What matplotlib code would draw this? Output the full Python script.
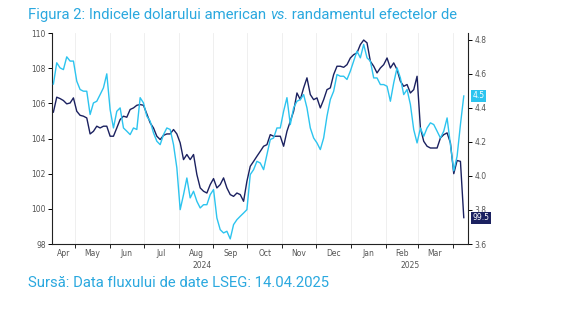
import numpy as np
import pandas as pd
import matplotlib
matplotlib.use('Agg')
import matplotlib.pyplot as plt
from matplotlib.transforms import blended_transform_factory

# sampled roughly every 3 days, 12 Apr 2024 - 11 Apr 2025
dates = pd.date_range('2024-04-12', '2025-04-11', periods=124)

# US dollar index (left axis)
dxy = [105.5, 106.35, 106.27, 106.16, 105.97, 106.02, 106.31, 105.55, 105.32, 105.27,
       105.17, 104.26, 104.41, 104.70, 104.60, 104.70, 104.70, 104.13, 104.13, 104.60,
       105.08, 105.27, 105.21, 105.65, 105.74, 105.89, 105.93, 105.89, 105.40, 104.89,
       104.60, 104.13, 103.94, 104.18, 104.26, 104.26, 104.51, 104.26, 103.75, 102.80,
       103.09, 102.80, 103.09, 101.95, 101.19,
       101.00, 100.90, 101.38, 101.72, 101.19, 101.38, 101.76, 101.19, 100.81, 100.71,
       100.90, 100.81, 100.43, 101.57, 102.42, 102.70, 102.99, 103.27, 103.56, 103.65,
       104.22, 104.13, 104.13, 104.13, 103.56, 104.41, 104.98, 105.55, 106.59, 106.21,
       106.88, 107.45, 106.50, 106.21, 106.31, 105.74, 106.21, 106.78, 106.88, 107.64,
       108.11, 108.11, 108.05, 108.20, 108.58, 108.77, 108.87, 109.34, 109.60, 109.44,
       108.39, 108.11, 107.73, 108.01, 108.20, 108.58, 108.01, 108.30, 107.92, 107.26,
       106.97, 107.07, 106.59, 106.78, 107.54, 104.60, 103.84, 103.56, 103.46, 103.46,
       103.46, 104.03, 104.22, 104.32, 103.75, 102.00, 102.75, 102.70, 99.5]

# 10Y US Treasury yield, % (right axis)
ust10 = [4.54, 4.665, 4.635, 4.625, 4.70, 4.675, 4.675, 4.557, 4.508, 4.498,
         4.498, 4.361, 4.429, 4.439, 4.478, 4.518, 4.60, 4.390, 4.282, 4.380,
         4.400, 4.282, 4.263, 4.243, 4.282, 4.273, 4.46, 4.429, 4.351, 4.322,
         4.253, 4.204, 4.184, 4.243, 4.282, 4.273, 4.184, 4.047, 3.802, 3.890,
         3.988, 3.871, 3.910, 3.851, 3.812,
         3.831, 3.831, 3.890, 3.920, 3.753, 3.684, 3.665, 3.675, 3.63, 3.714,
         3.743, 3.763, 3.782, 3.802, 4.008, 4.037, 4.086, 4.076, 4.037, 4.125,
         4.214, 4.223, 4.282, 4.282, 4.380, 4.46, 4.302, 4.400, 4.439, 4.449,
         4.478, 4.400, 4.282, 4.223, 4.194, 4.155, 4.223, 4.351, 4.449, 4.498,
         4.596, 4.586, 4.586, 4.567, 4.616, 4.675, 4.733, 4.694, 4.773, 4.694,
         4.675, 4.576, 4.576, 4.537, 4.537, 4.527, 4.439, 4.547, 4.635, 4.576,
         4.478, 4.508, 4.420, 4.272, 4.194, 4.282, 4.233, 4.282, 4.312, 4.302,
         4.263, 4.223, 4.263, 4.341, 4.184, 4.03, 4.116, 4.302, 4.47]

month_names = ['Apr', 'May', 'Jun', 'Jul', 'Aug', 'Sep', 'Oct', 'Nov', 'Dec',
               'Jan', 'Feb', 'Mar']
years = ['2024', '2025']

x_start = pd.Timestamp('2024-04-11')
x_end = pd.Timestamp('2025-04-15')

navy = '#1b2160'
cyan = '#2cc4ef'
title_col = '#2aa8df'
tick_col = '#555555'

plt.rcParams['font.family'] = 'DejaVu Sans'

fig = plt.figure(figsize=(5.67, 3.22), dpi=100)
ax = fig.add_axes([0.0922, 0.2422, 0.7337, 0.6553])
ax2 = ax.twinx()

ax.plot(dates, dxy, color=navy, lw=1.0)
ax2.plot(dates, ust10, color=cyan, lw=1.0)

ax.set_xlim(x_start, x_end)
ax.set_ylim(98, 110)
ax2.set_ylim(3.6, 4.84)
ax.set_yticks(np.arange(98, 111, 2))
ax2.set_yticks(np.arange(3.6, 4.81, 0.2))
ax2.set_yticklabels(['%.1f' % v for v in np.arange(3.6, 4.81, 0.2)])

# month boundaries as major ticks, month names centred on the visible part
month_starts = pd.date_range('2024-04-01', '2025-04-01', freq='MS')
major = [m for m in month_starts if x_start < m < x_end]
mids = []
for i, name in enumerate(month_names):
    a = max(month_starts[i], x_start)
    b = min(month_starts[i + 1], x_end)
    mids.append(a + (b - a) / 2)
ax.set_xticks(major)
ax.set_xticklabels([])
ax.set_xticks(mids, minor=True)
ax.set_xticklabels(month_names, minor=True)
ax.tick_params(axis='x', which='major', length=3, width=0.7, color='#222222')
ax.tick_params(axis='x', which='minor', length=0, pad=3.5, labelsize=5.5,
               labelcolor=tick_col)
ax.tick_params(axis='y', length=3, width=0.7, pad=1.5, labelsize=5.5,
               labelcolor=tick_col)
ax2.tick_params(axis='y', length=3, width=0.7, pad=1.5, labelsize=5.5,
                labelcolor=tick_col)

ax.grid(axis='x', which='major', color='#ececec', lw=0.6)
ax.set_axisbelow(True)

for a in (ax, ax2):
    a.spines['top'].set_visible(False)
    for s in ('left', 'right', 'bottom'):
        a.spines[s].set_linewidth(0.8)
        a.spines[s].set_color('#222222')
ax.spines['right'].set_visible(False)
ax2.spines['left'].set_visible(False)
ax2.spines['bottom'].set_visible(False)

# year labels under the month names
yr_bounds = [(x_start, pd.Timestamp('2025-01-01')), (pd.Timestamp('2025-01-01'), x_end)]
for yr, (a, b) in zip(years, yr_bounds):
    ax.annotate(yr, xy=(a + (b - a) / 2, 0),
                xycoords=('data', 'axes fraction'),
                xytext=(0, -15.5), textcoords='offset points',
                ha='center', va='center', fontsize=5.5, color=tick_col)

# last-value tags on the right axis
ax2.annotate('%.1f' % ust10[-1], xy=(1, ust10[-1]),
             xycoords=('axes fraction', 'data'), xytext=(2.8, 0),
             textcoords='offset points', ha='left', va='center',
             fontsize=5.5, color='white', zorder=10, annotation_clip=False,
             bbox=dict(boxstyle='square,pad=0.2', fc=cyan, ec='none'))
ax2.annotate('%.1f' % dxy[-1], xy=(1, dxy[-1]),
             xycoords=blended_transform_factory(ax.transAxes, ax.transData),
             xytext=(2.8, 0), textcoords='offset points', ha='left',
             va='center', fontsize=5.5, color='white', zorder=10,
             annotation_clip=False,
             bbox=dict(boxstyle='square,pad=0.2', fc=navy, ec='none'))

# title with italic "vs."
fig.canvas.draw()
renderer = fig.canvas.get_renderer()
parts = [('Figura 2: Indicele dolarului american ', 'normal'),
         ('vs.', 'italic'),
         (' randamentul efectelor de', 'normal')]
x = 28 / 567
for txt, style in parts:
    t = fig.text(x, 1 - 19 / 322, txt, fontsize=10.7, color=title_col,
                 family='Roboto', style=style, va='baseline', ha='left')
    bb = t.get_window_extent(renderer)
    x = bb.x1 / fig.bbox.width

fig.text(28 / 567, 1 - 287 / 322, 'Sursă: Data fluxului de date LSEG: 14.04.2025',
         fontsize=10.7, color=title_col, family='Roboto', va='baseline', ha='left')

fig.savefig('out.png', dpi=100)
